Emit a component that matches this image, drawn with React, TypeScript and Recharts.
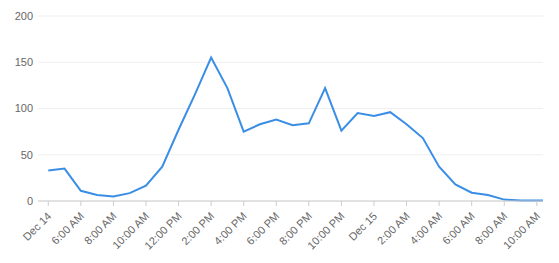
import { LineChart, Line, XAxis, YAxis, CartesianGrid } from "recharts";

// hours counted from the first tick (Dec 14, 4:00 AM)
const hours = [
  0, 1, 2, 3, 4, 5, 6, 7, 8, 9, 10, 11, 12, 13, 14, 15, 16, 17, 18, 19, 20,
  21, 22, 23, 24, 25, 26, 27, 28, 29, 30, 30.38,
];

const counts = [
  33, 35, 11, 6.5, 5, 8.5, 16.5, 37, 77, 115, 155, 122, 75, 83, 88, 82, 84,
  122, 76, 95, 92, 96, 83, 68, 37, 18, 9, 6.5, 1.5, 0.5, 0.5, 0.5,
];

const tickHours = [0, 2, 4, 6, 8, 10, 12, 14, 16, 18, 20, 22, 24, 26, 28, 30];
const tickLabels = [
  "Dec 14",
  "6:00 AM",
  "8:00 AM",
  "10:00 AM",
  "12:00 PM",
  "2:00 PM",
  "4:00 PM",
  "6:00 PM",
  "8:00 PM",
  "10:00 PM",
  "Dec 15",
  "2:00 AM",
  "4:00 AM",
  "6:00 AM",
  "8:00 AM",
  "10:00 AM",
];

const yTicks = [0, 50, 100, 150, 200];

const data = hours.map((h, i) => ({ hour: h, count: counts[i] }));

const labelFor = (h: number) => {
  const idx = tickHours.indexOf(h);
  return idx >= 0 ? tickLabels[idx] : "";
};

const AngledTick = (props: any) => {
  const { x, y, payload } = props;
  return (
    <g transform={`translate(${x + 1},${y + 5})`}>
      <text
        x={0}
        y={0}
        dy={4}
        textAnchor="end"
        fill="#666"
        fontSize={11}
        transform="rotate(-45)"
      >
        {labelFor(payload.value)}
      </text>
    </g>
  );
};

const App = () => {
  return (
    <div
      style={{
        position: "absolute",
        left: 0,
        top: 0,
        width: 559,
        height: 263,
        background: "#fff",
        fontFamily: "'Liberation Sans', Arial, sans-serif",
      }}
    >
      <LineChart
        width={559}
        height={263}
        data={data}
        margin={{ top: 16, right: 16, left: 0, bottom: 0 }}
      >
        <CartesianGrid vertical={false} stroke="#eeeeee" />
        <XAxis
          dataKey="hour"
          type="number"
          domain={[-0.63, 30.38]}
          ticks={tickHours}
          interval={0}
          height={62}
          stroke="#cccccc"
          tickSize={5}
          tickMargin={3}
          tick={<AngledTick />}
        />
        <YAxis
          domain={[0, 200]}
          ticks={yTicks}
          width={38}
          axisLine={false}
          tickLine={false}
          tickSize={0}
          tickMargin={5}
          tick={{ fill: "#666", fontSize: 11 }}
        />
        <Line
          type="linear"
          dataKey="count"
          stroke="#3a8ee6"
          strokeWidth={2}
          dot={false}
          isAnimationActive={false}
        />
      </LineChart>
    </div>
  );
};

export default App;
